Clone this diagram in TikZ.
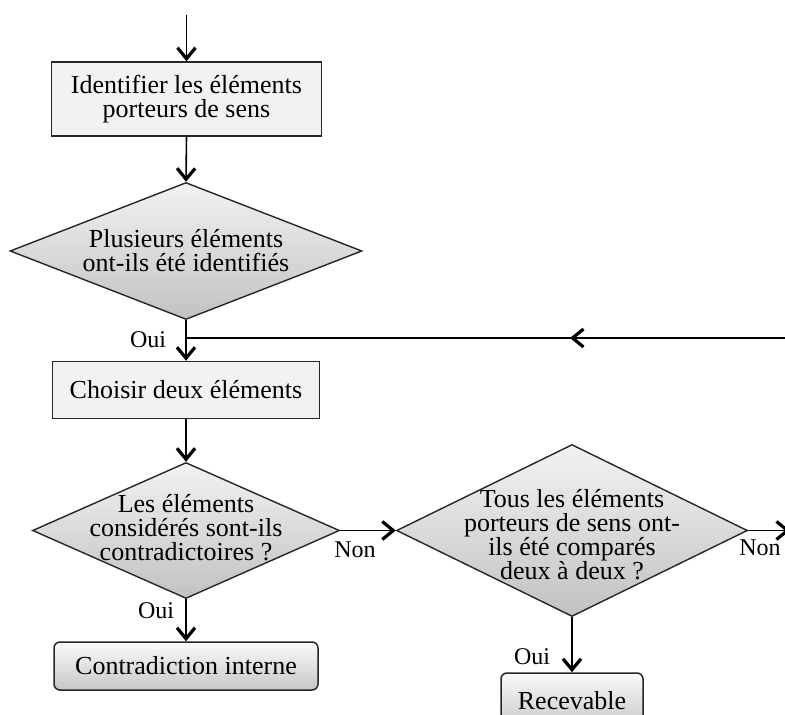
\documentclass[tikz,border=0pt]{standalone}
\usepackage{fontspec}
\setmainfont{Liberation Serif}
\usetikzlibrary{arrows.meta, decorations.markings, positioning, shapes.geometric}
\tikzset{
  flow/.style={
    line width=1.6pt, -{Straight Barb[length=11pt, width=18pt, line width=3.2pt]}
  },
  loopflow/.style={
    line width=1.6pt,
    postaction={decorate},
    decoration={markings, mark=at position 0.36 with {\arrow{Straight Barb[length=11pt, width=18pt, line width=3.2pt]}}}
  },
  stepbox/.style={rectangle, draw=black!85, line width=1.5pt, fill=black!5, align=center, inner sep=0pt},
  decision/.style={diamond, draw=black!85, line width=1.4pt, top color=black!5, bottom color=black!24, inner sep=0pt},
  endbox/.style={rectangle, rounded corners=6pt, draw=black!85, line width=1.5pt, top color=black!2, bottom color=black!22, inner sep=0pt},
  lbl/.style={font=\fontsize{24}{24}\selectfont},
}
\begin{document}
\begin{tikzpicture}[x=1pt, y=-1pt, font=\fontsize{26}{24}\selectfont]

  \useasboundingbox (0,0) rectangle (785,715);

  % steps
  \node[stepbox, minimum width=270pt, minimum height=74pt] (ident) at (186.5,99)
        {Identifier les éléments\\porteurs de sens};
  \node[stepbox, minimum width=267pt, minimum height=57pt] (choose) at (186,390)
        {Choisir deux éléments};

  % decisions
  \node[decision, minimum width=352pt, minimum height=137pt,
        label={[align=center]center:Plusieurs éléments\\ont-ils été identifiés}] (plus) at (186,251) {};
  \node[decision, minimum width=307pt, minimum height=136pt,
        label={[align=center, yshift=3pt]center:Les éléments\\considérés sont-ils\\contradictoires~?}] (contra) at (186,530.5) {};
  \node[decision, minimum width=351pt, minimum height=172pt,
        label={[align=center, yshift=-4pt]center:Tous les éléments\\porteurs de sens ont-\\ils été comparés\\deux à deux~?}] (tous) at (572,530.5) {};

  % outcomes
  \node[endbox, minimum width=264pt, minimum height=48pt] (interne) at (186,666) {Contradiction interne};
  \node[endbox, minimum width=142pt, minimum height=56pt] (recev) at (572,701) {Recevable};

  % free ends
  \coordinate (start) at (186.5,15);
  \coordinate (join) at (186,338);
  \coordinate (loopend) at (786,338);
  \coordinate (nonend) at (790,530.5);

  % connectors
  \draw[flow] (start) -- (ident.north);
  \draw[flow] (ident.south) -- (plus.north);
  \draw[flow] (plus.south) -- (choose.north);
  \draw[loopflow] (loopend) -- (join);
  \draw[flow] (choose.south) -- (contra.north);
  \draw[flow] (contra.south) -- (interne.north);
  \draw[flow] (contra.east) -- (tous.west);
  \draw[flow] (tous.east) -- (nonend);
  \draw[flow] (tous.south) -- (recev.north);

  % branch labels
  \node[lbl] (oui1) at (148,340) {Oui};
  \node[lbl] (non1) at (355,550) {Non};
  \node[lbl] (oui2) at (156,611) {Oui};
  \node[lbl] (non2) at (760,548) {Non};
  \node[lbl] (oui3) at (532,657) {Oui};

\end{tikzpicture}
\end{document}
